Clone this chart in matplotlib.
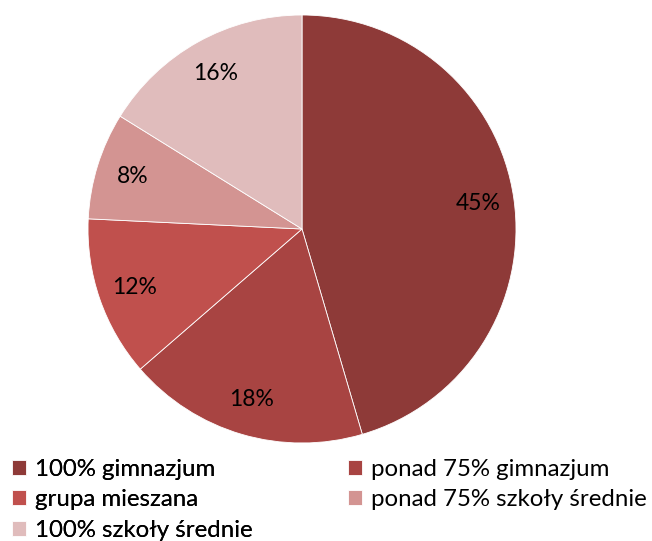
import matplotlib as mpl
import matplotlib.pyplot as plt

mpl.rc('font', family=['Lato', 'DejaVu Sans'])

labels = ['100% gimnazjum', 'ponad 75% gimnazjum', 'grupa mieszana',
          'ponad 75% szkoły średnie', '100% szkoły średnie']
shares = [45, 18, 12, 8, 16]
colors = ['#8E3A38', '#A84442', '#C0504D', '#D39492', '#E0BCBC']


def main():
	fig = plt.figure(figsize=(6.52, 5.41), dpi=100)
	ax = fig.add_axes([88 / 652, (541 - 443) / 541, 428 / 652, 428 / 541])

	wedges, texts, autotexts = ax.pie(
		shares, colors=colors, startangle=90, counterclock=False,
		autopct='%1.0f%%', pctdistance=0.83,
		wedgeprops=dict(edgecolor='white', linewidth=0.6),
		textprops=dict(fontsize=16.5, color='black'))
	ax.set_xlim(-1, 1)
	ax.set_ylim(-1, 1)
	ax.set_aspect('equal')

	# two legend columns, filled row by row
	common = dict(loc='upper left', frameon=False, fontsize=17.3,
		handlelength=0.57, handleheight=0.57, handletextpad=0.4,
		labelspacing=0.39, borderpad=0, borderaxespad=0)
	left = [0, 2, 4]
	right = [1, 3]
	leg1 = fig.legend([wedges[i] for i in left], [labels[i] for i in left],
		bbox_to_anchor=(12 / 652, 1 - 459 / 541), **common)
	fig.add_artist(leg1)
	fig.legend([wedges[i] for i in right], [labels[i] for i in right],
		bbox_to_anchor=(348 / 652, 1 - 459 / 541), **common)

	fig.savefig('out.png', dpi=100)


if __name__ == '__main__':
	main()
